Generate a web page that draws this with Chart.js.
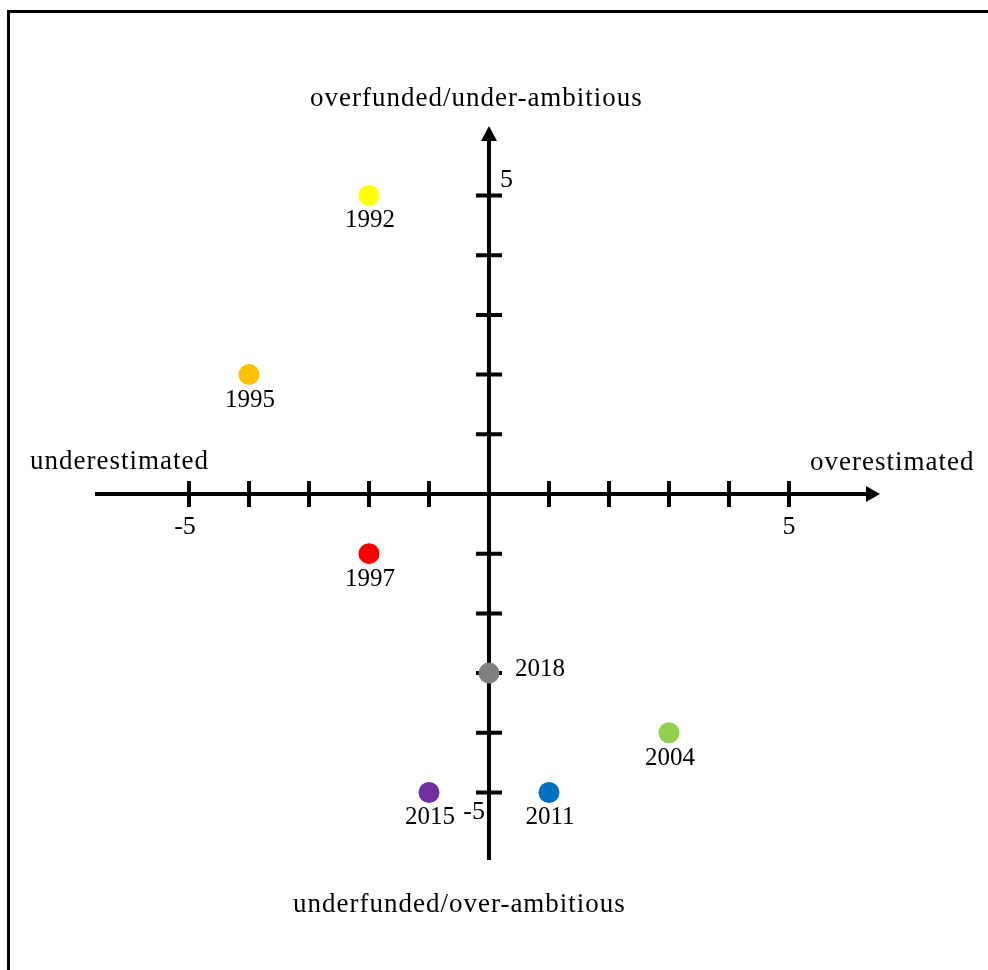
<!DOCTYPE html>
<html>
<head>
<meta charset="utf-8">
<script src="https://cdn.jsdelivr.net/npm/chart.js@4.4.1/dist/chart.umd.min.js"></script>
<style>
  html, body { margin: 0; padding: 0; background: #fff; }
  #wrap { width: 988px; height: 970px; position: relative; }
  canvas { display: block; }
</style>
</head>
<body>
<div id="wrap"><canvas id="c" width="988" height="970"></canvas></div>
<script>
// ---- data ----
const years   = ['1992', '1995', '1997', '2004', '2011', '2015', '2018'];
const xValues = [-2, -4, -2, 3, 1, -1, 0];
const yValues = [5, 2, -1, -4, -5, -5, -3];
const colors  = ['#FFFF00', '#FFC000', '#FF0000', '#92D050', '#0070C0', '#7030A0', '#808080'];
const tickValues = [-5, -4, -3, -2, -1, 0, 1, 2, 3, 4, 5];
const xTickLabels = [{ v: -5, t: '-5' }, { v: 5, t: '5' }];
const yTickLabels = [{ v: 5, t: '5' }, { v: -5, t: '-5' }];
const xTitleNeg = 'underestimated';
const xTitlePos = 'overestimated';
const yTitlePos = 'overfunded/under-ambitious';
const yTitleNeg = 'underfunded/over-ambitious';
const xRange = [-6.567, 6.517];
const yRange = [-6.131, 6.164];

const FONT = '"Liberation Serif", "Times New Roman", serif';

const axesPlugin = {
  id: 'quadAxes',
  beforeDatasetsDraw(chart) {
    const ctx = chart.ctx;
    const xs = chart.scales.x, ys = chart.scales.y;
    const x0 = xs.getPixelForValue(0), y0 = ys.getPixelForValue(0);
    const L = xs.left, R = xs.right, T = ys.top, B = ys.bottom;
    ctx.save();
    // frame
    ctx.strokeStyle = '#000';
    ctx.lineWidth = 3;
    ctx.strokeRect(8.5, 11.5, 1200, 1200);
    // axes
    ctx.lineWidth = 4;
    ctx.beginPath();
    ctx.moveTo(L, y0); ctx.lineTo(R - 12, y0);
    ctx.moveTo(x0, B); ctx.lineTo(x0, T + 12);
    ctx.stroke();
    // arrowheads
    ctx.fillStyle = '#000';
    ctx.beginPath();
    ctx.moveTo(R, y0); ctx.lineTo(R - 14, y0 - 8); ctx.lineTo(R - 14, y0 + 8); ctx.closePath();
    ctx.fill();
    ctx.beginPath();
    ctx.moveTo(x0, T); ctx.lineTo(x0 - 8, T + 15); ctx.lineTo(x0 + 8, T + 15); ctx.closePath();
    ctx.fill();
    // ticks
    ctx.lineWidth = 4;
    ctx.beginPath();
    tickValues.forEach(v => {
      if (v === 0) return;
      const px = xs.getPixelForValue(v);
      ctx.moveTo(px, y0 - 13); ctx.lineTo(px, y0 + 13);
      const py = ys.getPixelForValue(v);
      ctx.moveTo(x0 - 13, py); ctx.lineTo(x0 + 13, py);
    });
    ctx.stroke();
    // tick labels
    ctx.font = '26px ' + FONT;
    ctx.textBaseline = 'alphabetic';
    ctx.textAlign = 'center';
    xTickLabels.forEach(o => {
      const px = xs.getPixelForValue(o.v);
      ctx.fillText(o.t, o.v < 0 ? px - 4 : px, y0 + 40);
    });
    yTickLabels.forEach(o => {
      const py = ys.getPixelForValue(o.v);
      if (o.v > 0) { ctx.textAlign = 'left'; ctx.fillText(o.t, x0 + 11, py - 8); }
      else { ctx.textAlign = 'right'; ctx.fillText(o.t, x0 - 4, py + 27); }
    });
    // axis titles
    ctx.font = '27px ' + FONT;
    ctx.letterSpacing = '1px';
    ctx.textAlign = 'left';
    ctx.fillText(xTitleNeg, 30, y0 - 25);
    ctx.fillText(xTitlePos, 810, y0 - 24);
    ctx.fillText(yTitlePos, 310, T - 20);
    ctx.fillText(yTitleNeg, 293, B + 52);
    ctx.restore();
  },
  afterDatasetsDraw(chart) {
    const ctx = chart.ctx;
    const xs = chart.scales.x, ys = chart.scales.y;
    ctx.save();
    ctx.font = '25px ' + FONT;
    ctx.fillStyle = '#000';
    ctx.textBaseline = 'alphabetic';
    years.forEach((yr, i) => {
      const px = xs.getPixelForValue(xValues[i]);
      const py = ys.getPixelForValue(yValues[i]);
      if (xValues[i] === 0) {
        ctx.textAlign = 'left';
        ctx.fillText(yr, px + 26, py + 3);
      } else {
        ctx.textAlign = 'center';
        ctx.fillText(yr, px + 1, py + 32);
      }
    });
    ctx.restore();
  }
};

new Chart(document.getElementById('c'), {
  type: 'scatter',
  data: {
    datasets: [{
      label: 'years',
      data: xValues.map((x, i) => ({ x: x, y: yValues[i] })),
      backgroundColor: colors,
      borderWidth: 0,
      pointRadius: 10.5,
      pointHoverRadius: 10.5
    }]
  },
  options: {
    responsive: false,
    animation: false,
    events: [],
    layout: { padding: { left: 95, right: 108, top: 126, bottom: 110 } },
    plugins: { legend: { display: false }, tooltip: { enabled: false } },
    scales: {
      x: { type: 'linear', min: xRange[0], max: xRange[1], display: false },
      y: { type: 'linear', min: yRange[0], max: yRange[1], display: false }
    }
  },
  plugins: [axesPlugin]
});
</script>
</body>
</html>
